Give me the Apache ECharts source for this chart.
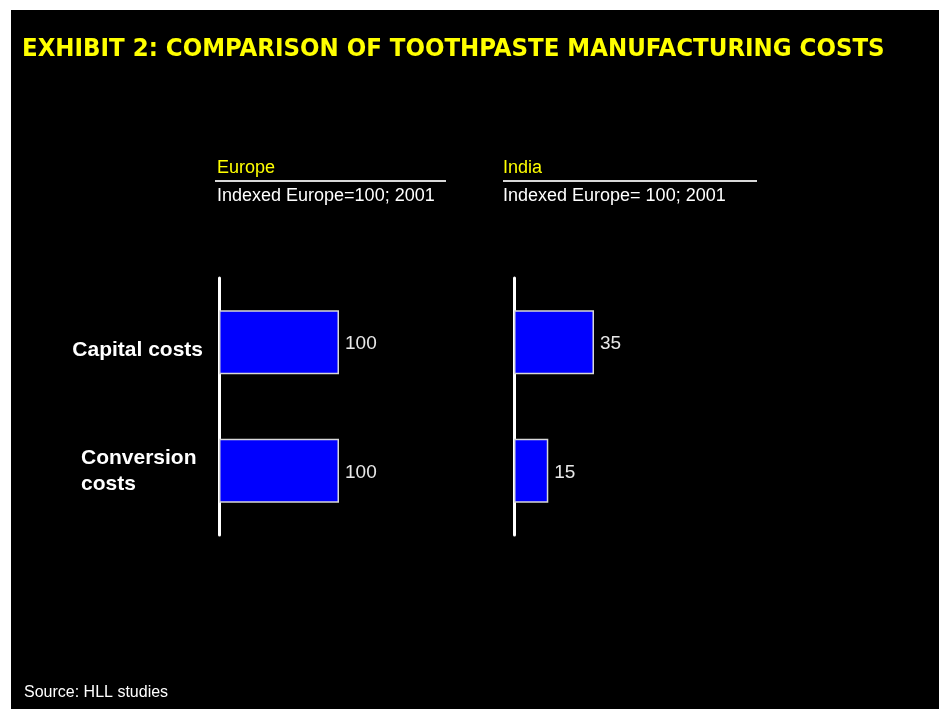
<!DOCTYPE html>
<html>
<head>
<meta charset="utf-8">
<script src="https://cdn.jsdelivr.net/npm/echarts@6/dist/echarts.min.js"></script>
<style>
html,body{margin:0;padding:0;background:#fff;}
#c{width:939px;height:709px;}
</style>
</head>
<body>
<div id="c"></div>
<script>
const titleText = 'EXHIBIT 2: COMPARISON OF TOOTHPASTE MANUFACTURING COSTS';
const categories = ['Capital costs', 'Conversion costs'];
const europeValues = [100, 100];
const indiaValues = [35, 15];
const panelTitles = ['Europe', 'India'];
const panelSubtitles = ['Indexed Europe=100; 2001', 'Indexed Europe= 100; 2001'];
const sourceText = 'Source: HLL studies';

const chart = echarts.init(document.getElementById('c'));

const catAxis = (gi) => ({
  type: 'category',
  gridIndex: gi,
  data: categories,
  inverse: true,
  axisLine: { show: true, lineStyle: { color: '#ffffff', width: 3 } },
  axisTick: { show: false },
  axisLabel: gi === 0 ? {
    show: true,
    margin: 16,
    formatter: function (v) {
      if (v === 'Conversion costs') return '{b|Conversion}\n{b|costs}';
      return '{a|' + v + '}';
    },
    rich: {
      a: { color: '#ffffff', fontSize: 21, fontWeight: 'bold', fontFamily: 'Liberation Sans, Arial, sans-serif', padding: [16, 0, 0, 0] },
      b: { color: '#ffffff', fontSize: 21, fontWeight: 'bold', fontFamily: 'Liberation Sans, Arial, sans-serif', width: 122, align: 'left', lineHeight: 26 }
    }
  } : { show: false }
});

const valAxis = (gi, max) => ({
  type: 'value', gridIndex: gi, min: 0, max: max, show: false,
  splitLine: { show: false }
});

const barSeries = (gi, data) => ({
  type: 'bar',
  xAxisIndex: gi,
  yAxisIndex: gi,
  data: data,
  barWidth: 64,
  itemStyle: { color: '#0000ff', borderColor: '#d8d8d8', borderWidth: 1.5 },
  label: {
    show: true, position: 'right', distance: 6, offset: [0, 2],
    color: '#e8e8e8', fontSize: 19, fontFamily: 'Liberation Sans, Arial, sans-serif'
  },
  silent: true
});

chart.setOption({
  backgroundColor: '#ffffff',
  animation: false,
  grid: [
    { left: 219, top: 278, width: 120, height: 257 },
    { left: 514, top: 278, width: 80, height: 257 }
  ],
  xAxis: [valAxis(0, europeValues[0]), valAxis(1, indiaValues[0])],
  yAxis: [catAxis(0), catAxis(1)],
  series: [barSeries(0, europeValues), barSeries(1, indiaValues)],
  graphic: [
    { type: 'rect', z: -10, silent: true, shape: { x: 11, y: 10, width: 939, height: 709 }, style: { fill: '#000000' } },
    { type: 'text', left: 22, top: 36, style: { text: titleText, fill: '#ffff00', fontSize: 25.5, fontWeight: 'bold', fontFamily: 'Liberation Sans Narrow, DejaVu Sans Condensed, Arial Narrow, sans-serif' } },
    { type: 'text', left: 217, top: 159, style: { text: panelTitles[0], fill: '#ffff00', fontSize: 18, fontFamily: 'Liberation Sans, Arial, sans-serif' } },
    { type: 'line', shape: { x1: 215, y1: 181, x2: 446, y2: 181 }, style: { stroke: '#d8d8d8', lineWidth: 2 } },
    { type: 'text', left: 217, top: 187, style: { text: panelSubtitles[0], fill: '#ffffff', fontSize: 18, fontFamily: 'Liberation Sans, Arial, sans-serif' } },
    { type: 'text', left: 503, top: 159, style: { text: panelTitles[1], fill: '#ffff00', fontSize: 18, fontFamily: 'Liberation Sans, Arial, sans-serif' } },
    { type: 'line', shape: { x1: 503, y1: 181, x2: 757, y2: 181 }, style: { stroke: '#d8d8d8', lineWidth: 2 } },
    { type: 'text', left: 503, top: 187, style: { text: panelSubtitles[1], fill: '#ffffff', fontSize: 18, fontFamily: 'Liberation Sans, Arial, sans-serif' } },
    { type: 'text', left: 24, top: 685, style: { text: sourceText, fill: '#ffffff', fontSize: 16, fontFamily: 'Liberation Sans, Arial, sans-serif' } }
  ]
});
</script>
</body>
</html>
